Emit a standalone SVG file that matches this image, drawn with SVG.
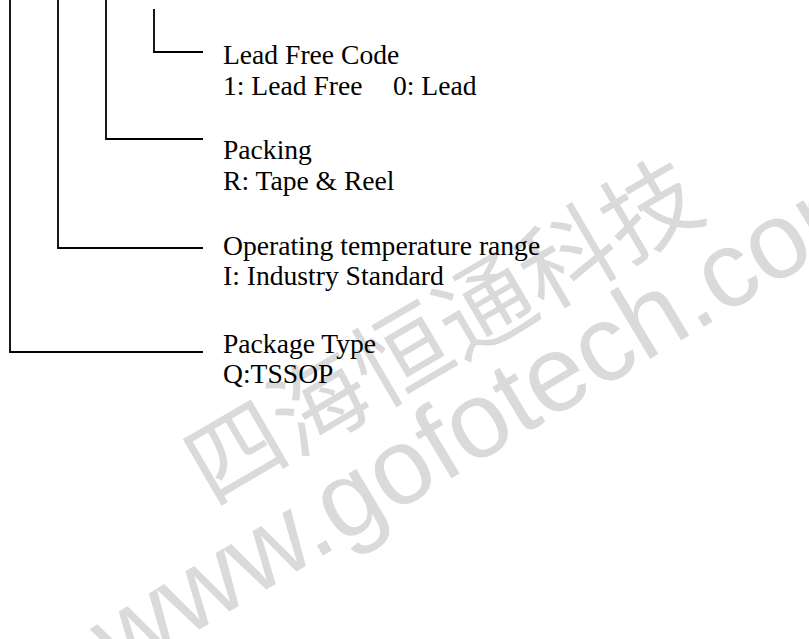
<svg xmlns="http://www.w3.org/2000/svg" width="809" height="639" viewBox="0 0 809 639">
<style>
.wm{fill:#dadada;}
.wmc{font-family:"Noto Sans CJK SC","Noto Sans CJK TC",sans-serif;font-size:96px;}
.wmu{font-family:"Liberation Sans",Arial,sans-serif;font-size:108px;}
.t{font-family:"Liberation Serif","Times New Roman",serif;font-size:27.6px;fill:#000;}
.ln{stroke:#000;stroke-width:1.8;fill:none;}
</style>
<rect width="809" height="639" fill="#fff"/>
<g id="watermark">
<text class="wm wmc" transform="translate(212,506) rotate(-30.3)">四海恒通科技</text>
<text class="wm wmu" transform="translate(119,678) rotate(-31)">www.gofotech.com</text>
</g>
<g id="connectors">
<path class="ln" d="M154,9 V52 H203"/>
<path class="ln" d="M106,0 V139 H203"/>
<path class="ln" d="M58,0 V248 H203"/>
<path class="ln" d="M10,0 V352 H203"/>
</g>
<g id="lead-free-code">
<text class="t" x="223" y="64">Lead Free Code</text>
<text class="t" x="223" y="95">1: Lead Free</text>
<text class="t" x="393" y="95">0: Lead</text>
</g>
<g id="packing">
<text class="t" x="223" y="159">Packing</text>
<text class="t" x="223" y="190">R: Tape &amp; Reel</text>
</g>
<g id="temperature">
<text class="t" x="223" y="255">Operating temperature range</text>
<text class="t" x="223" y="285">I: Industry Standard</text>
</g>
<g id="package-type">
<text class="t" x="223" y="353">Package Type</text>
<text class="t" x="223" y="383">Q:TSSOP</text>
</g>
</svg>
